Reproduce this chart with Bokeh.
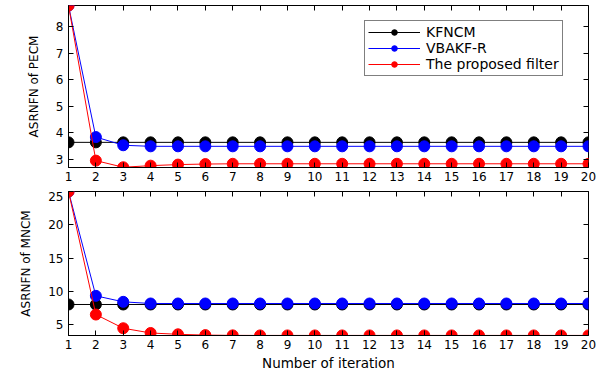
from bokeh.plotting import figure
from bokeh.layouts import column
from bokeh.models import LinearAxis, FixedTicker, Legend, LegendItem
from bokeh.embed import file_html
from bokeh.resources import INLINE

iterations = [1, 2, 3, 4, 5, 6, 7, 8, 9, 10, 11, 12, 13, 14, 15, 16, 17, 18, 19, 20]

pecm_kfncm = [3.63, 3.63, 3.63, 3.63, 3.63, 3.63, 3.63, 3.63, 3.63, 3.63,
              3.63, 3.63, 3.63, 3.63, 3.63, 3.63, 3.63, 3.63, 3.63, 3.63]
pecm_vbakf = [8.80, 3.83, 3.52, 3.48, 3.48, 3.48, 3.48, 3.48, 3.48, 3.48,
              3.48, 3.48, 3.48, 3.48, 3.48, 3.48, 3.48, 3.48, 3.48, 3.48]
pecm_prop = [8.80, 2.94, 2.69, 2.75, 2.79, 2.81, 2.82, 2.82, 2.82, 2.82,
             2.82, 2.82, 2.82, 2.82, 2.82, 2.82, 2.82, 2.82, 2.82, 2.82]

mncm_kfncm = [8.02, 8.02, 8.02, 8.02, 8.02, 8.02, 8.02, 8.02, 8.02, 8.02,
              8.02, 8.02, 8.02, 8.02, 8.02, 8.02, 8.02, 8.02, 8.02, 8.02]
mncm_vbakf = [25.0, 9.32, 8.42, 8.17, 8.17, 8.17, 8.17, 8.17, 8.17, 8.17,
              8.17, 8.17, 8.17, 8.17, 8.17, 8.17, 8.17, 8.17, 8.17, 8.17]
mncm_prop = [25.0, 6.51, 4.45, 3.74, 3.54, 3.42, 3.38, 3.37, 3.37, 3.37,
             3.37, 3.37, 3.37, 3.37, 3.37, 3.37, 3.37, 3.37, 3.37, 3.37]

series_names = ["KFNCM", "VBAKF-R", "The proposed filter"]
series_colors = ["#000000", "#0000ff", "#ff0000"]

pecm_ticks = [3, 4, 5, 6, 7, 8]
mncm_ticks = [5, 10, 15, 20, 25]

FONT = "DejaVu Sans"


def style(p, yticks, ylabel, xlabel=None):
    p.outline_line_color = "black"
    p.outline_line_width = 1
    p.outline_line_alpha = 1
    p.xgrid.visible = False
    p.ygrid.visible = False
    p.background_fill_color = "white"
    p.border_fill_color = "white"
    for ax in p.xaxis:
        ax.ticker = FixedTicker(ticks=iterations)
    for ax in p.yaxis:
        ax.ticker = FixedTicker(ticks=yticks)
    for ax in list(p.xaxis) + list(p.yaxis):
        ax.major_tick_in = 5
        ax.major_tick_out = 0
        ax.minor_tick_line_color = None
        ax.major_label_text_font = FONT
        ax.major_label_text_font_size = "12px"
        ax.major_label_text_color = "black"
        ax.axis_line_color = "black"
        ax.major_tick_line_color = "black"
        ax.axis_label_text_font = FONT
        ax.axis_label_text_font_style = "normal"
        ax.axis_label_text_color = "black"
    p.xaxis.major_label_standoff = 4
    p.yaxis.major_label_standoff = 5
    p.yaxis.axis_label = ylabel
    p.yaxis.axis_label_text_font_size = "12px"
    p.yaxis.axis_label_standoff = 12
    if xlabel:
        p.xaxis.axis_label = xlabel
        p.xaxis.axis_label_text_font_size = "13.5px"
        p.xaxis.axis_label_standoff = 3
    # mirrored ticks (no labels drawn)
    top = LinearAxis(ticker=FixedTicker(ticks=iterations))
    right = LinearAxis(ticker=FixedTicker(ticks=yticks))
    for ax in (top, right):
        ax.major_tick_in = 5
        ax.major_tick_out = 0
        ax.minor_tick_line_color = None
        ax.major_label_text_color = None
        ax.major_label_text_alpha = 0
        ax.major_label_text_font_size = "1px"
        ax.major_label_standoff = 0
        ax.axis_line_color = None
        ax.major_tick_line_color = "black"
    p.add_layout(top, "above")
    p.add_layout(right, "right")


p1 = figure(width=610, height=191, x_range=(1, 20), y_range=(2.68, 8.8),
            output_backend="svg", toolbar_location=None,
            min_border_left=68, min_border_right=22, min_border_top=5, min_border_bottom=24)
style(p1, pecm_ticks, "ASRNFN of PECM")

items = []
for ys, name, col in zip([pecm_kfncm, pecm_vbakf, pecm_prop], series_names, series_colors):
    r1 = p1.line(iterations, ys, line_color=col, line_width=1)
    r2 = p1.scatter(iterations, ys, size=11, fill_color=col, line_color=col)
    items.append(LegendItem(label=name, renderers=[r1, r2]))

legend = Legend(items=items, location=(296, 91))
legend.border_line_color = "black"
legend.border_line_width = 1
legend.background_fill_color = "white"
legend.background_fill_alpha = 1
legend.label_text_font = FONT
legend.label_text_font_size = "14px"
legend.label_text_color = "black"
legend.glyph_width = 52
legend.glyph_height = 14
legend.label_height = 14
legend.label_standoff = 6
legend.spacing = 0
legend.padding = 3
legend.margin = 0
p1.add_layout(legend, "center")

p2 = figure(width=610, height=182, x_range=(1, 20), y_range=(3.36, 25),
            output_backend="svg", toolbar_location=None,
            min_border_left=68, min_border_right=22, min_border_top=0, min_border_bottom=38)
style(p2, mncm_ticks, "ASRNFN of MNCM", "Number of iteration")

for ys, col in zip([mncm_kfncm, mncm_vbakf, mncm_prop], series_colors):
    p2.line(iterations, ys, line_color=col, line_width=1)
    p2.scatter(iterations, ys, size=11, fill_color=col, line_color=col)

layout = column(p1, p2, spacing=0)
open("out.html", "w").write(file_html(layout, INLINE))
